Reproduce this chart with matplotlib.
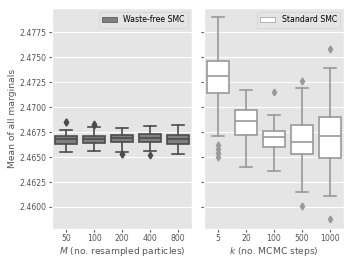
import numpy as np
import matplotlib
matplotlib.use("Agg")
import matplotlib.pyplot as plt
from matplotlib.patches import Patch

plt.style.use("ggplot")

# Waste-free SMC, by M (number of resampled particles)
m_labels = ["50", "100", "200", "400", "800"]
wf_whislo = [2.46552, 2.46562, 2.46555, 2.46565, 2.46535]
wf_q1 = [2.46636, 2.46640, 2.46650, 2.46650, 2.46636]
wf_med = [2.46680, 2.46680, 2.46690, 2.46690, 2.46680]
wf_q3 = [2.46713, 2.46713, 2.46723, 2.46730, 2.46726]
wf_whishi = [2.46770, 2.46806, 2.46796, 2.46813, 2.46820]
wf_fliers = [[2.46856, 2.46852], [2.46836, 2.46826], [2.46529, 2.46535],
             [2.46522], []]

# Standard SMC, by k (number of MCMC steps)
k_labels = ["5", "20", "100", "500", "1000"]
st_whislo = [2.46710, 2.46405, 2.46358, 2.46151, 2.46110]
st_q1 = [2.47145, 2.46723, 2.46599, 2.46535, 2.46489]
st_med = [2.47308, 2.46860, 2.46703, 2.46656, 2.46713]
st_q3 = [2.47459, 2.46967, 2.46760, 2.46820, 2.46897]
st_whishi = [2.47901, 2.47175, 2.46926, 2.47188, 2.47389]
st_fliers = [[2.46623, 2.46579, 2.46539, 2.46505], [], [2.47148],
             [2.47265, 2.46010], [2.47586, 2.45883]]


def make_stats(lo, q1, med, q3, hi, fl):
    return [dict(whislo=a, q1=b, med=c, q3=d, whishi=e, fliers=f)
            for a, b, c, d, e, f in zip(lo, q1, med, q3, hi, fl)]


def draw(ax, stats, face, edge, labels, xlabel, legend):
    ax.bxp(stats, positions=range(len(stats)), widths=0.8, patch_artist=True,
           boxprops=dict(facecolor=face, edgecolor=edge, linewidth=1.2),
           medianprops=dict(color=edge, linewidth=1.2),
           whiskerprops=dict(color=edge, linewidth=1.2),
           capprops=dict(color=edge, linewidth=1.2),
           flierprops=dict(marker="d", markerfacecolor=edge, markeredgecolor=edge,
                           markersize=3.5))
    ax.set_xlim(-0.5, len(stats) - 0.5)
    ax.set_xticks(range(len(stats)))
    ax.set_xticklabels(labels)
    ax.xaxis.grid(False)
    ax.set_xlabel(xlabel, labelpad=1)
    ax.tick_params(length=2, pad=2)
    ax.legend(handles=[Patch(facecolor=face, edgecolor=edge, label=legend)],
              loc="upper right")


plt.rcParams["font.size"] = 5.6
plt.rcParams["axes.labelsize"] = 6.6
plt.rcParams["legend.fontsize"] = 5.6

fig, (ax1, ax2) = plt.subplots(1, 2, figsize=(3.52, 2.64), dpi=100, sharey=True)
fig.subplots_adjust(left=0.148, right=0.977, top=0.968, bottom=0.133, wspace=0.086)

draw(ax1, make_stats(wf_whislo, wf_q1, wf_med, wf_q3, wf_whishi, wf_fliers),
     "#808080", "#4c4c4c", m_labels, "$M$ (no. resampled particles)", "Waste-free SMC")
draw(ax2, make_stats(st_whislo, st_q1, st_med, st_q3, st_whishi, st_fliers),
     "white", "#999999", k_labels, "$k$ (no. MCMC steps)", "Standard SMC")

ax1.set_ylim(2.4578, 2.4799)
ax1.set_yticks([2.4600, 2.4625, 2.4650, 2.4675, 2.4700, 2.4725, 2.4750, 2.4775])
ax1.yaxis.set_major_formatter(matplotlib.ticker.FormatStrFormatter("%.4f"))
ax1.set_ylabel("Mean of all marginals", labelpad=2)

fig.savefig("out.png", dpi=100)
